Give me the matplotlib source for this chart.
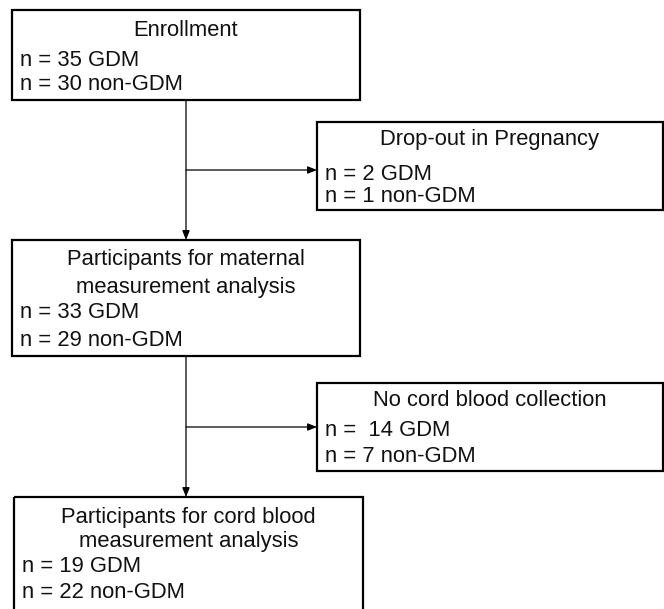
import matplotlib
matplotlib.use("Agg")
import matplotlib.pyplot as plt
from matplotlib.patches import Rectangle

plt.rcParams['font.family'] = ['Liberation Sans', 'DejaVu Sans']

# ---- data ----
titles = [
    ["Enrollment"],
    ["Drop-out in Pregnancy"],
    ["Participants for maternal", "measurement analysis"],
    ["No cord blood collection"],
    ["Participants for cord blood", "measurement analysis"],
]
gdm_counts = ["35", "2", "33", " 14", "19"]
non_gdm_counts = ["30", "1", "29", "7", "22"]

# ---- layout (pixels, y down) ----
boxes = [  # x0, y0, x1, y1
    (12, 10, 360, 100),
    (317, 122, 663, 210),
    (12, 240, 360, 356),
    (317, 383, 663, 471),
    (14, 497, 363, 640),
]
title_y = [[30], [140], [260, 287], [400], [517, 542]]
count_y = [(61, 85), (174, 197), (313, 340), (431, 456), (567, 592)]

W, H = 664, 609
fig = plt.figure(figsize=(W / 100, H / 100), dpi=100)
ax = fig.add_axes([0, 0, 1, 1])
ax.set_xlim(0, W)
ax.set_ylim(H, 0)
ax.axis('off')

fs = 15.8
for i, (x0, y0, x1, y1) in enumerate(boxes):
    ax.add_patch(Rectangle((x0, y0), x1 - x0, y1 - y0, fill=False,
                           edgecolor='black', linewidth=1.6))
    cx = (x0 + x1) / 2
    for t, ty in zip(titles[i], title_y[i]):
        ax.text(cx, ty, t, ha='center', va='center', fontsize=fs, color='#111111')
    ax.text(x0 + 8, count_y[i][0], f"n = {gdm_counts[i]} GDM", ha='left',
            va='center', fontsize=fs, color='#111111')
    ax.text(x0 + 8, count_y[i][1], f"n = {non_gdm_counts[i]} non-GDM", ha='left',
            va='center', fontsize=fs, color='#111111')

ap = dict(arrowstyle='-|>,head_length=0.55,head_width=0.22', color='black',
          lw=0.9, shrinkA=0, shrinkB=0)
vx = 186
# vertical arrows
ax.annotate('', xy=(vx, 240), xytext=(vx, 100), arrowprops=ap)
ax.annotate('', xy=(vx, 497), xytext=(vx, 356), arrowprops=ap)
# horizontal arrows
ax.annotate('', xy=(317, 170), xytext=(vx, 170), arrowprops=ap)
ax.annotate('', xy=(317, 427), xytext=(vx, 427), arrowprops=ap)

fig.savefig('out.png', dpi=100, facecolor='white')
